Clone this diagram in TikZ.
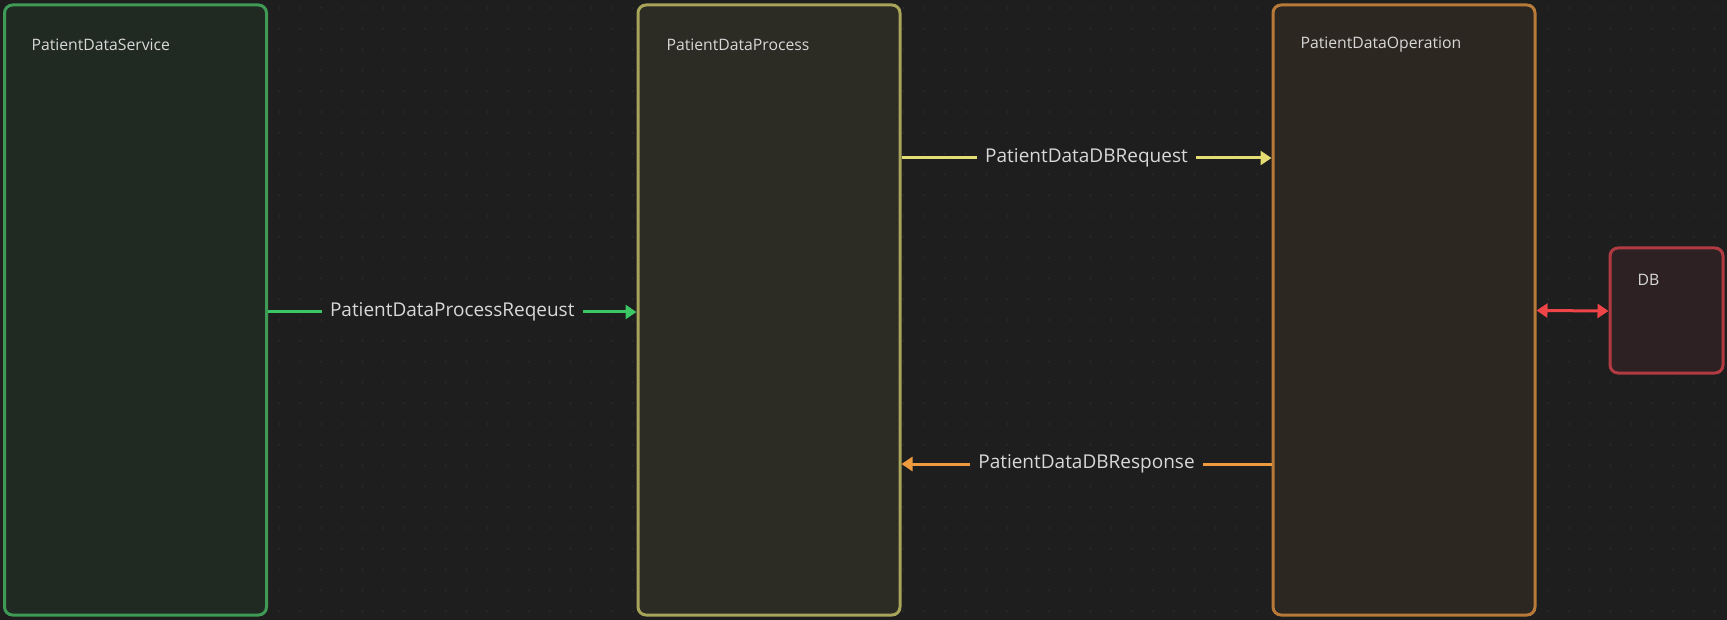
\documentclass[tikz,border=0pt]{standalone}
\usepackage{fontspec}
\setmainfont{Open Sans}
\usetikzlibrary{arrows.meta}
\definecolor{canvas}{HTML}{1E1E1E}
\definecolor{dots}{HTML}{2C2C2C}
\definecolor{txt}{HTML}{D8D8D8}
\definecolor{svcline}{HTML}{3E9A55}
\definecolor{svcfill}{HTML}{212923}
\definecolor{procline}{HTML}{A8A45A}
\definecolor{procfill}{HTML}{2C2B24}
\definecolor{opline}{HTML}{B87A38}
\definecolor{opfill}{HTML}{2D2722}
\definecolor{dbline}{HTML}{B23A42}
\definecolor{dbfill}{HTML}{2E2123}
\definecolor{greenarrow}{HTML}{3CC765}
\definecolor{yellowarrow}{HTML}{E3DD73}
\definecolor{orangearrow}{HTML}{EE9A3E}
\definecolor{redarrow}{HTML}{EF4549}
\tikzset{
  lane/.style={rectangle, rounded corners=8pt, line width=3pt, minimum width=262pt, minimum height=610pt},
  lanelabel/.style={anchor=west, text=txt, font=\fontsize{15.75}{19}\selectfont},
  msg/.style={fill=canvas, text=txt, font=\fontsize{19}{23}\selectfont, inner xsep=8pt},
  tip/.style={Triangle[length=11pt,width=14pt]},
  flow/.style={line width=3pt, -{Triangle[length=11pt,width=14pt]}}
}
\begin{document}
\begin{tikzpicture}[x=1pt,y=-1pt]
  \fill[canvas] (0,0) rectangle (1727,620);
  \useasboundingbox (0,0) rectangle (1727,620);
  % faint dot grid
  \foreach \i in {0,...,82}
    \foreach \j in {0,...,29}
      \fill[dots] (9+20.8*\i,8+20.8*\j) circle (1pt);
  \node[lane, draw=svcline, fill=svcfill] (svc) at (135.5,310) {};
  \node[lane, draw=procline, fill=procfill] (proc) at (769,310) {};
  \node[lane, draw=opline, fill=opfill] (op) at (1404,310) {};
  \node[lane, draw=dbline, fill=dbfill, minimum width=113pt, minimum height=125pt] (db) at (1666.5,310.5) {};
  \node[lanelabel] (svclabel) at (28,45) {PatientDataService};
  \node[lanelabel] (proclabel) at (663,45) {PatientDataProcess};
  \node[lanelabel] (oplabel) at (1297,45) {PatientDataOperation};
  \node[lanelabel] (dblabel) at (1634,280) {DB};
  \begin{scope}[line width=3pt]
    \draw[flow, greenarrow] ([yshift=-2pt]svc.east) -- node[msg] {PatientDataProcessReqeust} ([yshift=-2pt]proc.west);
    \draw[flow, yellowarrow] ([yshift=152pt]proc.east) -- node[msg] {PatientDataDBRequest} ([yshift=152pt]op.west);
    \draw[flow, orangearrow] ([yshift=-154pt]op.west) -- node[msg] {PatientDataDBResponse} ([yshift=-154pt]proc.east);
    \draw[redarrow, {Triangle[length=11pt,width=14pt]}-{Triangle[length=11pt,width=14pt]}] ([yshift=-0.5pt]op.east) -- ([yshift=-0.5pt]db.west);
  \end{scope}
\end{tikzpicture}
\end{document}
